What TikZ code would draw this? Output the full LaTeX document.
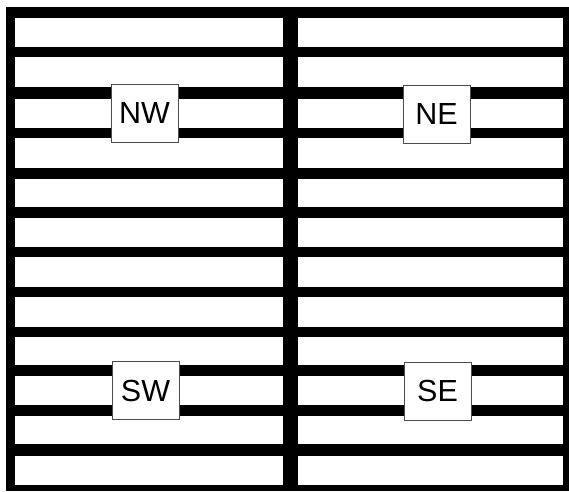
\documentclass[tikz,border=0pt]{standalone}
\usepackage{fontspec}
\setmainfont{Liberation Sans}
\begin{document}
\begin{tikzpicture}[x=1pt,y=-1pt,
  rowgap/.style={fill=white},
  lbl/.style={draw=black!70,line width=0.7pt,fill=white,minimum width=67pt,minimum height=58pt,inner sep=0pt,font=\fontsize{30.5}{30.5}\selectfont}]
\useasboundingbox (0,0) rectangle (569,491);
\fill[white] (0,0) rectangle (569,491);
\fill[black] (6,7) rectangle (569,491);
\foreach \a/\b in {18/47,57/87,99/128,138/168,179/207,218/247,257/287,297/327,337/365,376/405,416/444,456/485}{
  \fill[rowgap] (15,\a) rectangle (283,\b);
  \fill[rowgap] (298,\a) rectangle (563,\b);
}
\node[lbl] (nw) at (144.5,113) {NW};
\node[lbl] (ne) at (436.5,114) {NE};
\node[lbl] (sw) at (145.5,390.5) {SW};
\node[lbl] (se) at (437.5,391) {SE};
\end{tikzpicture}
\end{document}
